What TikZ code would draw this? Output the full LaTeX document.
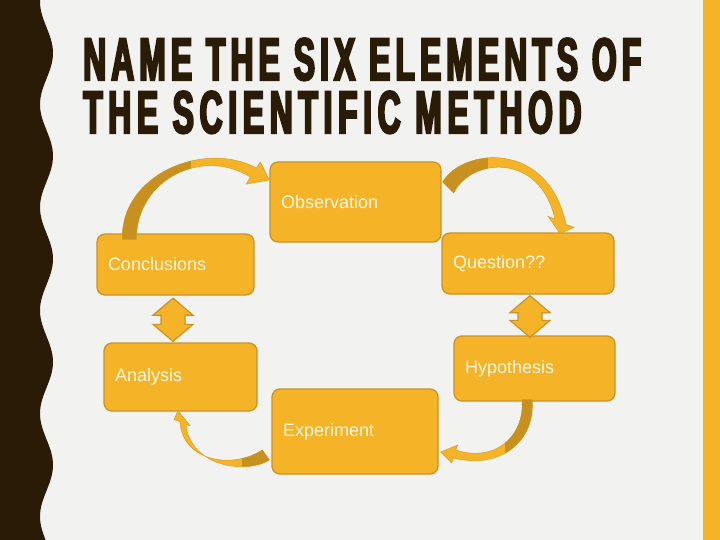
\documentclass[tikz,border=0pt]{standalone}
\usepackage{fontspec}
\setmainfont{Liberation Sans}
\newfontfamily\titlefont{Liberation Sans Bold}[FakeStretch=0.53,FakeBold=3.5,LetterSpace=8.5]
\usetikzlibrary{calc}

\definecolor{pagebg}{HTML}{F2F2F0}
\definecolor{edgeband}{HTML}{2A1B06}
\definecolor{boxfill}{HTML}{F5B327}
\definecolor{boxline}{HTML}{C99424}
\definecolor{boxtext}{HTML}{FFF8E2}
\definecolor{arrowdark}{HTML}{C8901E}
\definecolor{arrowedge}{HTML}{D9A024}

\tikzset{
  titletext/.style={anchor=base west, inner sep=0pt, text=edgeband,
    text height=43pt, text depth=0pt,
    font=\titlefont\fontsize{60}{64}\selectfont},
  stepbox/.style={rounded corners=8pt, fill=boxfill, draw=boxline, line width=1.3pt,
    text=boxtext, font=\fontsize{18}{21}\selectfont, align=left,
    inner xsep=11pt, inner ysep=0pt},
  twoway/.style={fill=boxfill, draw=boxline, line width=1.2pt},
  bandarrow/.style={fill=boxfill, draw=arrowedge, line width=0.5pt}
}

% vertical two-headed arrow from tip #1 down to tip #2
\newcommand{\twowayarrow}[2]{%
  \path[twoway] let \p1=(#1), \p2=(#2) in
    (\p1) -- (\x1+20pt,\y1-17pt) -- (\x1+12pt,\y1-17pt) -- (\x1+12pt,\y2+17pt)
    -- (\x1+20pt,\y2+17pt) -- (\x1,\y2) -- (\x1-20pt,\y2+17pt) -- (\x1-12pt,\y2+17pt)
    -- (\x1-12pt,\y1-17pt) -- (\x1-20pt,\y1-17pt) -- cycle;}

% curved band arrow: #1 outline, #2 corner, #3 corner of its darker tail part
\newcommand{\bandarrow}[3]{%
  \path[bandarrow] #1;
  \begin{scope}
    \clip #1;
    \fill[arrowdark] #2 rectangle #3;
  \end{scope}}

\begin{document}
\begin{tikzpicture}[x=1pt,y=-1pt]

% page
\fill[pagebg] (0,0) rectangle (720,540);
\fill[edgeband] (0,0) -- plot[domain=0:540,samples=181]
  ({46.5+6.5*sin((\x-27.25)*3.4951)},\x) -- (0,540) -- cycle;
\fill[boxfill] (703,0) rectangle (720,540);

% title
\node[titletext] (line1) at (83,80) {NAME THE SIX ELEMENTS OF};
\node[titletext] (line2) at (83,133) {\addfontfeatures{LetterSpace=9.5}THE SCIENTIFIC METHOD};

% the six steps
\node[stepbox, text width=149pt, minimum height=80pt] (obs)  at (355.5,202)   {Observation};
\node[stepbox, text width=150pt, minimum height=61pt] (que)  at (528,263.5)   {Question??};
\node[stepbox, text width=139pt, minimum height=65pt] (hyp)  at (534.5,368.5) {Hypothesis};
\node[stepbox, text width=144pt, minimum height=85pt] (exp)  at (355,431.5)   {Experiment};
\node[stepbox, text width=131pt, minimum height=68pt] (ana)  at (180.5,377)   {Analysis};
\node[stepbox, text width=135pt, minimum height=61pt] (conc) at (175.5,264.5) {Conclusions};

% two-way arrows
\twowayarrow{[xshift=-2.5pt,yshift=-2.5pt]conc.south}{[xshift=-7.5pt,yshift=1pt]ana.north}
\twowayarrow{[xshift=2pt,yshift=-1pt]que.south}{[xshift=-4.5pt,yshift=-2pt]hyp.north}

% curved arrows
\coordinate (t1) at ($(conc.north west)+(33,6)$);
\coordinate (h1) at ($(obs.west)+(0,-22)$);
\bandarrow{($(t1)+(-7,0)$) .. controls ($(t1)+(-9,-65)$) and ($(h1)+(-65,-40)$) .. ($(h1)+(-13,-12)$)
    -- ($(h1)+(-9,-18)$) -- (h1) -- ($(h1)+(-23,4)$) -- ($(h1)+(-19,-3)$)
    .. controls ($(h1)+(-67,-33)$) and ($(t1)+(7,-60)$) .. ($(t1)+(7,0)$) -- cycle}
  {($(t1)+(-20,10)$)}{($(t1)+(62,-90)$)}

\coordinate (t2) at ($(obs.east)+(6,-15)$);
\coordinate (h2) at ($(que.north)+(32,1)$);
\bandarrow{($(t2)+(-5,-5)$) .. controls ($(t2)+(15,-39)$) and ($(h2)+(-12,-94)$) .. ($(h2)+(6,-9)$)
    -- ($(h2)+(14,-6)$) -- (h2) -- ($(h2)+(-12,-17)$) -- ($(h2)+(-5,-14)$)
    .. controls ($(h2)+(-20,-82)$) and ($(t2)+(23,-29)$) .. ($(t2)+(6,6)$) -- cycle}
  {($(t2)+(-17,13)$)}{($(t2)+(40,-47)$)}

\coordinate (t3) at ($(hyp.south)+(-7.5,-2)$);
\coordinate (h3) at ($(exp.east)+(2,20.5)$);
\bandarrow{($(t3)+(5,0)$) .. controls ($(t3)+(9,41)$) and ($(h3)+(60,18)$) .. ($(h3)+(13,6)$)
    -- ($(h3)+(11,11)$) -- (h3) -- ($(h3)+(17,-7)$) -- ($(h3)+(15,-2)$)
    .. controls ($(h3)+(55,11)$) and ($(t3)+(-2,36)$) .. ($(t3)+(-5,0)$) -- cycle}
  {($(t3)+(-22,-6)$)}{($(t3)+(18,69)$)}

\coordinate (t4) at ($(exp.west)+(-5.5,23.5)$);
\coordinate (h4) at ($(ana.south)+(-2.5,-1)$);
\bandarrow{($(t4)+(3.5,5)$) .. controls ($(t4)+(-21.5,20)$) and ($(h4)+(12,55)$) .. ($(h4)+(8,14)$)
    -- ($(h4)+(12,15)$) -- (h4) -- ($(h4)+(-4,9)$) -- ($(h4)+(2,11)$)
    .. controls ($(h4)+(4,50)$) and ($(t4)+(-34.5,15)$) .. ($(t4)+(-3.5,-5)$) -- cycle}
  {($(t4)+(-23.5,-15)$)}{($(t4)+(13.5,20)$)}

\end{tikzpicture}
\end{document}
